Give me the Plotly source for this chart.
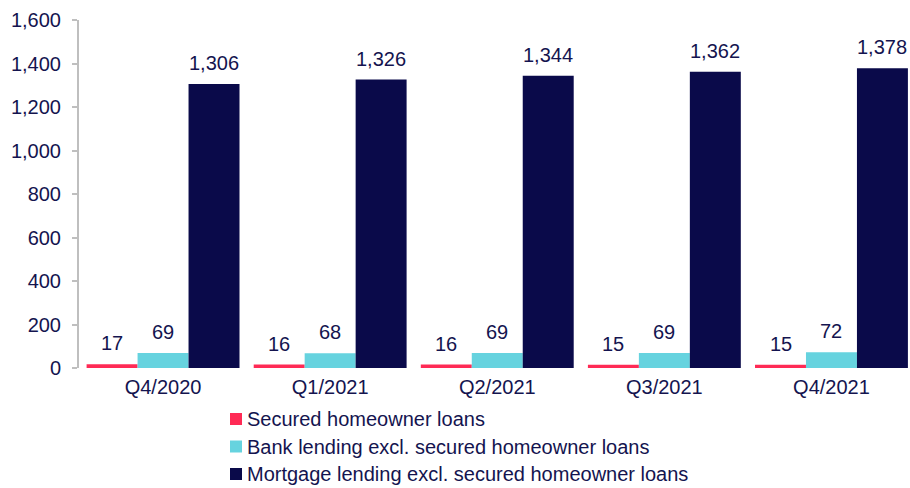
import plotly.graph_objects as go

# Quarterly lending volumes by category
quarters = ["Q4/2020", "Q1/2021", "Q2/2021", "Q3/2021", "Q4/2021"]
secured_homeowner = [17, 16, 16, 15, 15]
bank_lending = [69, 68, 69, 69, 72]
mortgage_lending = [1306, 1326, 1344, 1362, 1378]

series_names = [
    "Secured homeowner loans",
    "Bank lending excl. secured homeowner loans",
    "Mortgage lending excl. secured homeowner loans",
]
series_values = [secured_homeowner, bank_lending, mortgage_lending]
series_colors = ["#FF2A55", "#66D3DF", "#0A0A4A"]

TEXT = "#14144F"
FONT = "Arial, Liberation Sans, sans-serif"
W, H = 910, 488
BAR_W = 0.305
offsets = [-BAR_W, 0.0, BAR_W]
positions = list(range(len(quarters)))

fig = go.Figure()
annotations = []
shapes = []
for name, vals, color, off in zip(series_names, series_values, series_colors, offsets):
    xs = [p + off for p in positions]
    fig.add_trace(go.Bar(
        x=xs, y=vals, width=BAR_W, name=name, showlegend=False,
        marker=dict(color=color, line=dict(width=0)),
    ))
    for x, v in zip(xs, vals):
        annotations.append(dict(
            x=x, y=v, xref="x", yref="y", text=f"{v:,}", showarrow=False,
            yanchor="bottom", xanchor="center", yshift=8,
            font=dict(family=FONT, size=20, color=TEXT),
        ))

# Legend below the chart: one coloured square and label per series
legend_left, legend_top, row_gap = 230, 419, 27.5
for i, (name, color) in enumerate(zip(series_names, series_colors)):
    cy = legend_top + i * row_gap
    shapes.append(dict(
        type="rect", xref="paper", yref="paper",
        x0=(legend_left - 79) / 831, x1=(legend_left + 12 - 79) / 831,
        y0=(H - 120 - (cy + 6)) / 348, y1=(H - 120 - (cy - 6)) / 348,
        fillcolor=color, line=dict(width=0),
    ))
    annotations.append(dict(
        x=(legend_left + 15 - 79) / 831, y=(H - 120 - cy) / 348,
        xref="paper", yref="paper", text=name, showarrow=False,
        xanchor="left", yanchor="middle",
        font=dict(family=FONT, size=20, color=TEXT),
    ))

fig.update_layout(
    width=W, height=H,
    margin=dict(l=79, r=0, t=20, b=120, autoexpand=False),
    paper_bgcolor="white", plot_bgcolor="white",
    barmode="overlay",
    font=dict(family=FONT, size=20, color=TEXT),
    annotations=annotations,
    shapes=shapes,
    showlegend=False,
    xaxis=dict(
        range=[-0.503, 4.47], tickmode="array", tickvals=positions, ticktext=quarters,
        tickangle=0, showgrid=False, zeroline=False, showline=False, ticks="",
        ticklabelstandoff=5,
        tickfont=dict(family=FONT, size=20, color=TEXT),
    ),
    yaxis=dict(
        range=[0, 1600], dtick=200, tickformat=",d",
        showgrid=False, zeroline=False,
        showline=True, linecolor="#BFBFBF", linewidth=2,
        ticks="outside", ticklen=5, tickcolor="#BFBFBF", tickwidth=1.5,
        ticklabelstandoff=7,
        tickfont=dict(family=FONT, size=20, color=TEXT),
    ),
)

fig.write_html("out.html")
